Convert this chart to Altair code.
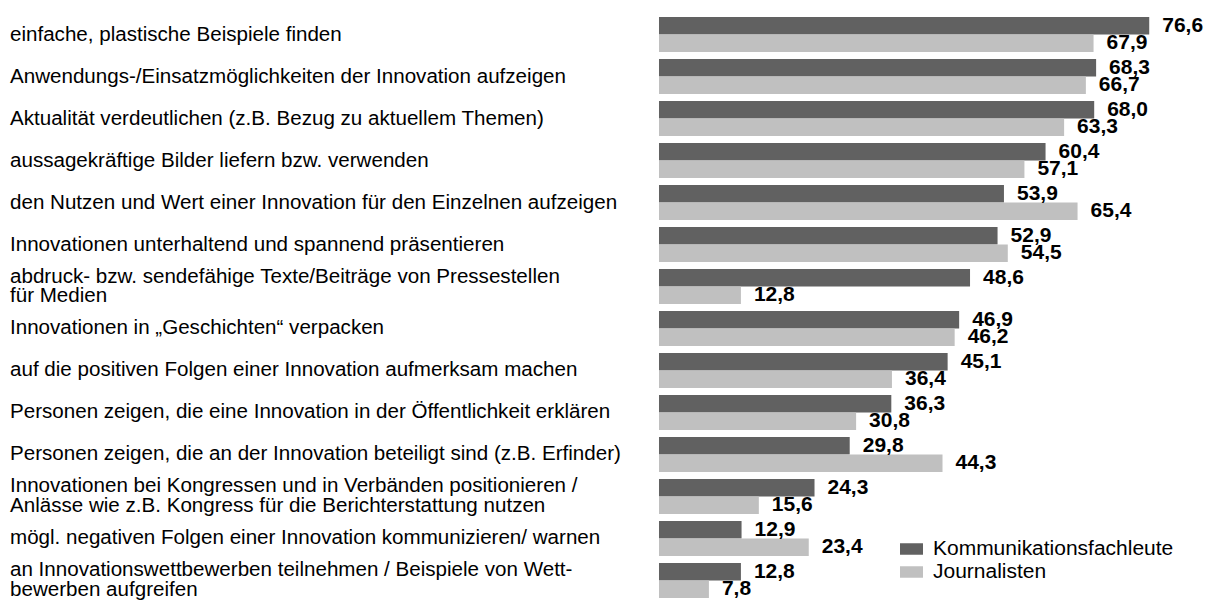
import altair as alt
import pandas as pd

categories = [
    "einfache, plastische Beispiele finden",
    "Anwendungs-/Einsatzmöglichkeiten der Innovation aufzeigen",
    "Aktualität verdeutlichen (z.B. Bezug zu aktuellem Themen)",
    "aussagekräftige Bilder liefern bzw. verwenden",
    "den Nutzen und Wert einer Innovation für den Einzelnen aufzeigen",
    "Innovationen unterhaltend und spannend präsentieren",
    "abdruck- bzw. sendefähige Texte/Beiträge von Pressestellen\nfür Medien",
    "Innovationen in „Geschichten“ verpacken",
    "auf die positiven Folgen einer Innovation aufmerksam machen",
    "Personen zeigen, die eine Innovation in der Öffentlichkeit erklären",
    "Personen zeigen, die an der Innovation beteiligt sind (z.B. Erfinder)",
    "Innovationen bei Kongressen und in Verbänden positionieren /\nAnlässe wie z.B. Kongress für die Berichterstattung nutzen",
    "mögl. negativen Folgen einer Innovation kommunizieren/ warnen",
    "an Innovationswettbewerben teilnehmen / Beispiele von Wett-\nbewerben aufgreifen",
]
series = ["Kommunikationsfachleute", "Journalisten"]
kommunikation = [76.6, 68.3, 68.0, 60.4, 53.9, 52.9, 48.6, 46.9, 45.1, 36.3, 29.8, 24.3, 12.9, 12.8]
journalisten = [67.9, 66.7, 63.3, 57.1, 65.4, 54.5, 12.8, 46.2, 36.4, 30.8, 44.3, 15.6, 23.4, 7.8]
colors = ["#616161", "#c0c0c0"]

rows = []
for c, k, j in zip(categories, kommunikation, journalisten):
    rows.append({"category": c, "series": series[0], "value": k})
    rows.append({"category": c, "series": series[1], "value": j})
df = pd.DataFrame(rows)
cat_df = pd.DataFrame({"category": categories})

FONT = "Liberation Sans"
FS = 21
CAT_FS = 20.6
LINE_H = 20

y_enc = alt.Y("category:N", sort=categories, axis=None,
              scale=alt.Scale(paddingInner=1 / 6, paddingOuter=1 / 12))
yoff_enc = alt.YOffset("series:N", sort=series,
                       scale=alt.Scale(paddingInner=0, paddingOuter=0))
x_enc = alt.X("value:Q", axis=None, scale=alt.Scale(domain=[0, 84], nice=False))

base = alt.Chart(df)

bars = base.mark_bar().encode(
    x=x_enc,
    y=y_enc,
    yOffset=yoff_enc,
    color=alt.Color(
        "series:N", sort=series,
        scale=alt.Scale(domain=series, range=colors),
        legend=alt.Legend(
            title=None, orient="none", legendX=242, legendY=525,
            symbolType="M-2,-1H2V1H-2Z", symbolSize=132, symbolStrokeWidth=0,
            symbolOpacity=1,
            labelFont=FONT, labelFontSize=FS, labelColor="#000000",
            labelOffset=11, labelLimit=400, rowPadding=1, padding=0,
        ),
    ),
)

values = base.transform_calculate(
    label="replace(format(datum.value, '.1f'), '.', ',')"
).mark_text(
    align="left", baseline="middle", dx=13, font=FONT, fontSize=FS,
    fontWeight="bold", color="#000000",
).encode(
    x=x_enc,
    y=y_enc,
    yOffset=yoff_enc,
    text="label:N",
)

cat_base = alt.Chart(cat_df).encode(
    y=alt.Y("category:N", sort=categories, axis=None),
    x=alt.value(-649),
    text="category:N",
)
text_style = dict(align="left", baseline="middle", lineBreak="\n", font=FONT,
                  fontSize=CAT_FS, lineHeight=LINE_H, color="#000000")

cat_single = cat_base.transform_filter(
    "indexof(datum.category, '\\n') < 0"
).mark_text(**text_style)

cat_multi = cat_base.transform_filter(
    "indexof(datum.category, '\\n') >= 0"
).mark_text(dy=-LINE_H / 2, **text_style)

chart = alt.layer(bars, values, cat_single, cat_multi).properties(
    width=537.6,
    height=588,
    background="#ffffff",
    autosize=alt.AutoSizeParams(type="none"),
    padding={"left": 651, "top": 5.5, "right": 8, "bottom": 10},
).configure_view(strokeWidth=0, stroke=None)

chart.save("out.html", embed_options={"renderer": "svg", "actions": False})
